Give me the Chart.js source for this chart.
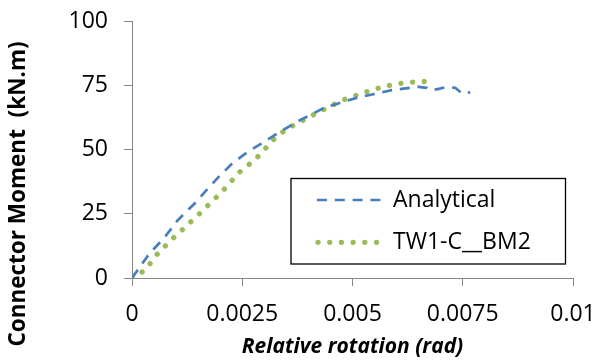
<!DOCTYPE html>
<html>
<head>
<meta charset="utf-8">
<script src="https://cdn.jsdelivr.net/npm/chart.js@4.4.0/dist/chart.umd.min.js"></script>
<style>
html,body{margin:0;padding:0;background:#fff;}
#wrap{width:596px;height:361px;position:relative;}
</style>
</head>
<body>
<div id="wrap"><canvas id="c" width="596" height="361"></canvas></div>
<script>
// ---- data ----
const xTickLabels = ["0", "0.0025", "0.005", "0.0075", "0.01"];
const yTickLabels = ["0", "25", "50", "75", "100"];
const xTitle = "Relative rotation (rad)";
const yTitle = "Connector Moment  (kN.m)";
const seriesNames = ["Analytical", "TW1-C__BM2"];

const analyticalX = [0, 0.000394, 0.000735, 0.001038, 0.001455, 0.00172, 0.001985, 0.002288, 0.002629, 0.002932, 0.003235, 0.003576, 0.003841, 0.004106, 0.004371, 0.004712, 0.005091, 0.00547, 0.005886, 0.0063, 0.00649, 0.00668, 0.00672, 0.00691, 0.0071, 0.00733, 0.00748, 0.00767];
const analyticalY = [0, 9.5, 15.7, 22.5, 29.6, 34.8, 39.7, 44.8, 49.1, 52.3, 55.6, 59.1, 61.7, 64.0, 66.3, 68.1, 70.1, 71.5, 73.1, 74.0, 74.4, 74.0, 73.4, 73.4, 74.2, 74.0, 71.8, 72.2];

const testX = [0, 0.000227, 0.000409, 0.000568, 0.000757, 0.000946, 0.001143, 0.00134, 0.001537, 0.001727, 0.001916, 0.002105, 0.002287, 0.002468, 0.002673, 0.002877, 0.003052, 0.003241, 0.003446, 0.003673, 0.003916, 0.004159, 0.004386, 0.004627, 0.00487, 0.005127, 0.005377, 0.005636, 0.005893, 0.006159, 0.006423, 0.006695];
const testY = [0, 2.3, 5.6, 9.2, 12.5, 15.7, 18.8, 22.0, 25.1, 28.3, 31.5, 34.8, 38.3, 41.7, 44.4, 47.6, 50.9, 54.4, 57.2, 59.5, 61.7, 63.9, 65.9, 67.9, 69.9, 71.3, 72.8, 74.1, 75.2, 75.9, 76.3, 76.5];

const FONT = '"Open Sans", "Liberation Sans", sans-serif';
const AXIS = '#868686';

function pts(xs, ys){ return xs.map((x,i)=>({x:x, y:ys[i]})); }
function noPad(s){ s.paddingTop = 0; s.paddingBottom = 0; s.paddingLeft = 0; s.paddingRight = 0; }

const yTitlePlugin = {
  id: 'yTitlePlugin',
  afterDraw(chart){
    const ctx = chart.ctx;
    ctx.save();
    ctx.translate(19, 194);
    ctx.rotate(-Math.PI/2);
    ctx.font = 'bold 22.5px ' + FONT;
    ctx.fillStyle = '#000';
    ctx.textAlign = 'center';
    ctx.textBaseline = 'middle';
    ctx.fillText(yTitle, 0, 0);
    ctx.restore();
  }
};

const boxLegend = {
  id: 'boxLegend',
  afterDraw(chart){
    const ctx = chart.ctx;
    const L = 291, T = 178.5, R = 565.5, B = 264;
    ctx.save();
    ctx.fillStyle = '#fff';
    ctx.fillRect(L, T, R-L, B-T);
    ctx.strokeStyle = '#000';
    ctx.lineWidth = 1.3;
    ctx.strokeRect(L, T, R-L, B-T);
    const rows = [200, 242.3];
    chart.data.datasets.forEach((ds, i) => {
      const y = rows[i];
      ctx.save();
      ctx.strokeStyle = ds.borderColor;
      ctx.lineWidth = ds.borderWidth;
      ctx.lineCap = ds.borderCapStyle || 'butt';
      ctx.setLineDash(ds.borderDash || []);
      ctx.beginPath();
      ctx.moveTo(i === 0 ? 317 : 318, y);
      ctx.lineTo(i === 0 ? 381 : 378, y);
      ctx.stroke();
      ctx.restore();
      ctx.fillStyle = '#000';
      ctx.font = '23px ' + FONT;
      ctx.textAlign = 'left';
      ctx.textBaseline = 'middle';
      ctx.fillText(ds.label, 393, y);
    });
    ctx.restore();
  }
};

function draw(){
  new Chart(document.getElementById('c'), {
    type: 'line',
    data: {
      datasets: [
        {
          label: seriesNames[0],
          data: pts(analyticalX, analyticalY),
          borderColor: '#4A7EBB',
          borderWidth: 2.7,
          borderDash: [10, 7.8],
          borderCapStyle: 'butt',
          pointRadius: 0,
          tension: 0,
          fill: false
        },
        {
          label: seriesNames[1],
          data: pts(testX, testY),
          borderColor: '#9BBB59',
          borderWidth: 5.3,
          borderDash: [0.01, 11.69],
          borderCapStyle: 'round',
          pointRadius: 0,
          tension: 0,
          fill: false
        }
      ]
    },
    options: {
      responsive: false,
      animation: false,
      devicePixelRatio: 1,
      layout: { padding: { left: 0, right: 23, top: 21, bottom: 0 } },
      plugins: { legend: { display: false }, tooltip: { enabled: false } },
      scales: {
        x: {
          type: 'linear',
          min: 0, max: 0.01,
          afterFit(s){ s.height = 83; noPad(s); },
          ticks: {
            stepSize: 0.0025,
            autoSkip: false,
            maxRotation: 0,
            padding: 15,
            color: '#000',
            font: { family: FONT, size: 23 },
            callback: (v) => xTickLabels[Math.round(v / 0.0025)]
          },
          grid: { drawOnChartArea: false, drawTicks: true, tickLength: 8, color: AXIS, lineWidth: 1 },
          border: { display: true, color: AXIS, width: 1 },
          title: {
            display: true,
            text: xTitle,
            color: '#000',
            font: { family: FONT, size: 21, weight: 'bold', style: 'italic' },
            padding: { top: 0, bottom: 1 }
          }
        },
        y: {
          type: 'linear',
          min: 0, max: 100,
          afterFit(s){ s.width = 132; noPad(s); },
          ticks: {
            stepSize: 25,
            padding: 16,
            color: '#000',
            font: { family: FONT, size: 23 },
            callback: (v) => yTickLabels[Math.round(v / 25)]
          },
          grid: { drawOnChartArea: false, drawTicks: true, tickLength: 8, color: AXIS, lineWidth: 1 },
          border: { display: true, color: AXIS, width: 1 },
          title: { display: false }
        }
      }
    },
    plugins: [yTitlePlugin, boxLegend]
  });
}

if (document.fonts && document.fonts.load) {
  Promise.all([
    document.fonts.load('23px "Open Sans"'),
    document.fonts.load('bold 22px "Open Sans"'),
    document.fonts.load('italic bold 21px "Open Sans"')
  ]).then(draw, draw);
} else {
  draw();
}
</script>
</body>
</html>
